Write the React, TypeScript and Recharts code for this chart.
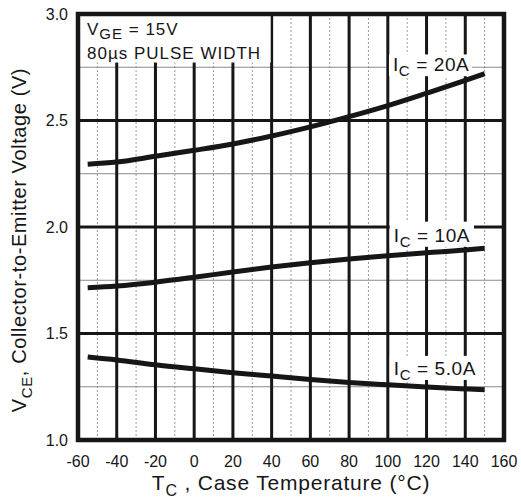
import React from "react";
import {
  LineChart,
  Line,
  XAxis,
  YAxis,
  ReferenceLine,
  ReferenceArea,
} from "recharts";

const temps = [-55, -40, -20, 0, 20, 40, 60, 80, 100, 120, 140, 150];
const vce20A = [2.295, 2.305, 2.332, 2.36, 2.39, 2.427, 2.47, 2.518, 2.57, 2.628, 2.688, 2.72];
const vce10A = [1.715, 1.723, 1.741, 1.764, 1.789, 1.812, 1.832, 1.85, 1.865, 1.879, 1.892, 1.9];
const vce5A = [1.39, 1.376, 1.353, 1.334, 1.316, 1.3, 1.284, 1.27, 1.259, 1.249, 1.24, 1.236];

const xTicks = [-60, -40, -20, 0, 20, 40, 60, 80, 100, 120, 140, 160];
const yTicks = [1.0, 1.5, 2.0, 2.5, 3.0];
const majorX = [-40, -20, 0, 20, 40, 60, 80, 100, 120, 140];
const minorX = [-50, -30, -10, 10, 30, 50, 70, 90, 110, 130, 150];
const majorY = [1.5, 2.0, 2.5];
const minorY = [1.25, 1.75, 2.25, 2.75];

const data = temps.map((t, i) => ({
  t,
  ic20: vce20A[i],
  ic10: vce10A[i],
  ic5: vce5A[i],
}));

const FONT = "'Liberation Sans', Arial, Helvetica, sans-serif";
const INK = "#161616";

function IcBox(props: any) {
  const { x, y, width, height, value, base } = props;
  return (
    <g>
      <rect x={x} y={y} width={width} height={height} fill="#fff" />
      <text x={x + 4} y={y + base} fontSize={19} fill={INK} fontFamily={FONT} letterSpacing={0.6}>
        I
        <tspan dy={5} fontSize={15}>C</tspan>
        <tspan dy={-5}>{` = ${value}`}</tspan>
      </text>
    </g>
  );
}

function ConditionBox(props: any) {
  const { x, y, width, height } = props;
  return (
    <g>
      <rect x={x} y={y} width={width} height={height} fill="#fff" />
      <text x={x + 9} y={y + 21} fontSize={17} fill={INK} fontFamily={FONT} letterSpacing={1}>
        V
        <tspan dy={4} fontSize={15}>GE</tspan>
        <tspan dy={-4}> = 15V</tspan>
      </text>
      <text x={x + 9} y={y + 45} fontSize={17} fill={INK} fontFamily={FONT} letterSpacing={1}>
        80µs PULSE WIDTH
      </text>
    </g>
  );
}

function XTitle(props: any) {
  const { viewBox } = props;
  const cx = viewBox.x + viewBox.width / 2;
  return (
    <text x={cx} y={viewBox.y + 50} textAnchor="middle" fontSize={21} fill={INK} fontFamily={FONT} letterSpacing={0.8}>
      T
      <tspan dy={6} fontSize={16}>C</tspan>
      <tspan dy={-6}> , Case Temperature (°C)</tspan>
    </text>
  );
}

function YTitle(props: any) {
  const { viewBox } = props;
  const cy = viewBox.y + viewBox.height / 2 + 13;
  const x = 26;
  return (
    <text
      x={x}
      y={cy}
      transform={`rotate(-90, ${x}, ${cy})`}
      textAnchor="middle"
      fontSize={20}
      fill={INK}
      fontFamily={FONT}
      letterSpacing={0.6}
    >
      V
      <tspan dy={6} fontSize={15}>CE</tspan>
      <tspan dy={-6}>, Collector-to-Emitter Voltage (V)</tspan>
    </text>
  );
}

export default function App() {
  const tickStyle = { fontSize: 16, fill: INK, fontFamily: FONT };
  return (
    <div style={{ width: 521, height: 504, background: "#fff" }}>
      <style>{`body{margin:0;overflow:hidden;}`}</style>
      <LineChart
        width={521}
        height={504}
        data={data}
        margin={{ top: 14, right: 17, bottom: 34, left: 0 }}
      >
        <XAxis
          dataKey="t"
          type="number"
          domain={[-60, 160]}
          ticks={xTicks}
          axisLine={false}
          tickLine={false}
          tickSize={0}
          tickMargin={16}
          height={30}
          tick={tickStyle}
          interval={0}
          label={{ content: XTitle }}
        />
        <YAxis
          type="number"
          domain={[1, 3]}
          ticks={yTicks}
          axisLine={false}
          tickLine={false}
          tickSize={0}
          tickMargin={10}
          width={78}
          tick={tickStyle}
          interval={0}
          tickFormatter={(v: number) => v.toFixed(1)}
          label={{ content: YTitle }}
        />

        {minorX.map((v) => (
          <ReferenceLine key={`mx${v}`} x={v} stroke="#9a9a9a" strokeWidth={1} strokeDasharray="2 2" zIndex={10} />
        ))}
        {minorY.map((v) => (
          <ReferenceLine key={`my${v}`} y={v} stroke="#8a8a8a" strokeWidth={1.2} zIndex={10} />
        ))}
        {majorX.map((v) => (
          <ReferenceLine key={`Mx${v}`} x={v} stroke={INK} strokeWidth={3} zIndex={20} />
        ))}
        {majorY.map((v) => (
          <ReferenceLine key={`My${v}`} y={v} stroke={INK} strokeWidth={3} zIndex={20} />
        ))}

        <ReferenceArea x1={-60} x2={39.5} y1={2.772} y2={3} shape={ConditionBox} zIndex={150} />
        <ReferenceArea
          x1={100.6}
          x2={143.5}
          y1={2.708}
          y2={2.81}
          shape={(p: any) => <IcBox {...p} value="20A" base={17} />}
          zIndex={150}
        />
        <ReferenceArea
          x1={101}
          x2={144.5}
          y1={1.907}
          y2={2.025}
          shape={(p: any) => <IcBox {...p} value="10A" base={20} />}
          zIndex={150}
        />
        <ReferenceArea
          x1={101}
          x2={146.6}
          y1={1.282}
          y2={1.395}
          shape={(p: any) => <IcBox {...p} value="5.0A" base={19} />}
          zIndex={150}
        />

        <Line type="monotone" dataKey="ic20" stroke={INK} strokeWidth={5} dot={false} isAnimationActive={false} zIndex={400} />
        <Line type="monotone" dataKey="ic10" stroke={INK} strokeWidth={5} dot={false} isAnimationActive={false} zIndex={400} />
        <Line type="monotone" dataKey="ic5" stroke={INK} strokeWidth={5} dot={false} isAnimationActive={false} zIndex={400} />

        <ReferenceArea x1={-60} x2={160} y1={1} y2={3} fill="none" fillOpacity={0} stroke={INK} strokeWidth={4.5} zIndex={450} />
      </LineChart>
    </div>
  );
}
